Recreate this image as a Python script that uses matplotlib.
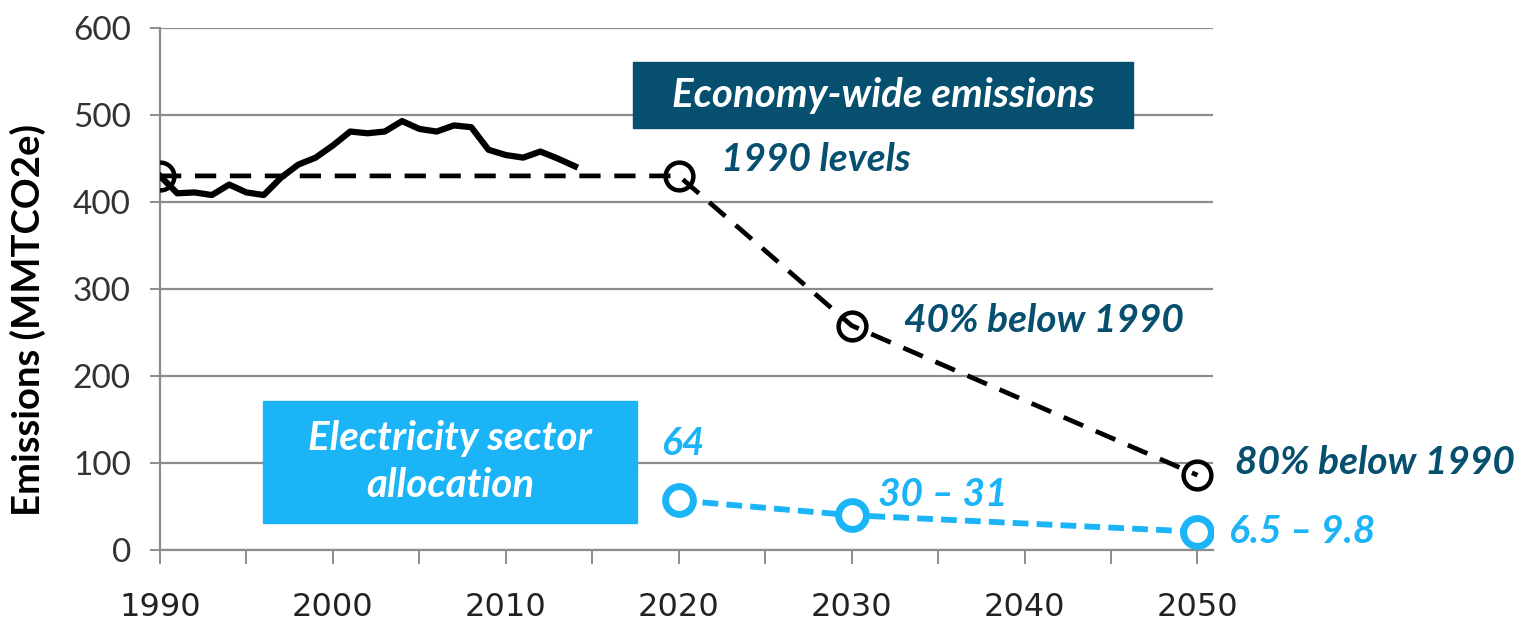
import numpy as np
import matplotlib.pyplot as plt
from matplotlib.patches import Rectangle
from matplotlib.ticker import MultipleLocator

# historical economy-wide emissions (MMTCO2e)
hist_years = list(range(1990, 2015))
hist_vals = [430, 410, 411, 408, 420, 411, 408, 428, 443, 451, 465, 481, 479,
             481, 493, 484, 481, 488, 486, 460, 454, 451, 458, 450, 441]

# economy-wide targets
target_years = [1990, 2020, 2030, 2050]
target_vals = [430, 430, 258, 86]
target_labels = ['', '1990 levels', '40% below 1990', '80% below 1990']

# electricity sector allocation
elec_years = [2020, 2030, 2050]
elec_vals = [57, 40, 21]
elec_labels = ['64', '30 – 31', '6.5 – 9.8']

W, H = 1532, 620
dark = '#064f6e'
light = '#1ab4f7'
grid_c = '#8c8c8c'

plt.rcParams['font.family'] = ['Lato', 'DejaVu Sans']

fig = plt.figure(figsize=(W / 100, H / 100), dpi=100)
ax = fig.add_axes([160 / W, 1 - 550 / H, (1213 - 160) / W, (550 - 28) / H])

ax.set_xlim(1990, 2050.9)
ax.set_ylim(0, 600)
ax.yaxis.set_major_locator(MultipleLocator(100))
ax.xaxis.set_major_locator(MultipleLocator(10))
ax.xaxis.set_minor_locator(MultipleLocator(5))
ax.grid(axis='y', color=grid_c, lw=1.6, zorder=0)
ax.set_axisbelow(True)
for s in ['top', 'right']:
    ax.spines[s].set_visible(False)
for s in ['left', 'bottom']:
    ax.spines[s].set_color(grid_c)
    ax.spines[s].set_linewidth(1.6)
ax.tick_params(axis='y', length=7, width=1.4, color=grid_c, labelsize=24,
               labelcolor='#333333', pad=14)
ax.tick_params(axis='x', which='both', length=10, width=1.4, color=grid_c,
               labelsize=23, labelcolor='#222222', pad=20)
for lab in ax.get_xticklabels():
    lab.set_family(['Liberation Sans Narrow', 'DejaVu Sans'])
ax.set_ylabel('Emissions (MMTCO2e)', fontsize=27.5, fontweight='bold')
ax.yaxis.set_label_coords(-0.108, 0.44)

# lines
ax.plot(hist_years, hist_vals, color='black', lw=4.5, solid_joinstyle='round', zorder=3)
ax.plot(target_years, target_vals, color='black', lw=3.4, ls=(0, (4.5, 2.9)),
        marker='o', ms=20, mfc='none', mec='black', mew=3.2, zorder=4)
ax.plot(elec_years, elec_vals, color=light, lw=4.2, ls=(0, (2.7, 1.4)),
        marker='o', ms=20, mfc='white', mec=light, mew=5, zorder=4)

# value labels
offs_t = [(0, 0), (42, 16), (52, 5), (38, 13)]
for x, y, t, o in zip(target_years, target_vals, target_labels, offs_t):
    if t:
        ax.annotate(t, (x, y), xytext=o, textcoords='offset pixels', ha='left',
                    va='center', fontsize=28, fontweight='bold', style='italic',
                    color=dark, annotation_clip=False)
offs_e = [(-18, 57), (26, 21), (32, 0)]
for x, y, t, o in zip(elec_years, elec_vals, elec_labels, offs_e):
    ax.annotate(t, (x, y), xytext=o, textcoords='offset pixels', ha='left',
                va='center', fontsize=28, fontweight='bold', style='italic',
                color=light, annotation_clip=False)

# boxes
def box(x0, y0, x1, y1, color, text):
    fig.patches.append(Rectangle((x0 / W, 1 - y1 / H), (x1 - x0) / W, (y1 - y0) / H,
                                 transform=fig.transFigure, color=color, zorder=5))
    fig.text((x0 + x1) / 2 / W, 1 - (y0 + y1) / 2 / H, text, ha='center', va='center',
             color='white', fontsize=29, fontweight='bold', style='italic',
             linespacing=1.35, zorder=6)

box(633, 62, 1133, 128, dark, 'Economy-wide emissions')
box(263, 401, 637, 523, light, 'Electricity sector\nallocation')

fig.savefig('out.png', dpi=100)
